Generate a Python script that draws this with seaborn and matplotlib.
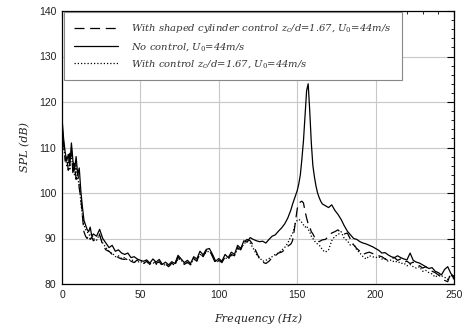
import numpy as np
import pandas as pd
import seaborn as sns
import matplotlib
matplotlib.use("Agg")
import matplotlib.pyplot as plt
from matplotlib.ticker import MultipleLocator
from matplotlib.font_manager import FontProperties

freq = list(range(0, 21)) + list(range(22, 147, 2)) + list(range(147, 167)) + list(range(168, 251, 2))

# With shaped cylinder control (dashed)
spl_shaped = [
    115, 111, 107, 108, 105, 109, 110, 104, 106.5, 103, 105, 101, 99, 95, 91.5, 90.5, 90, 90.8, 89.8, 90.3, 89.5,
    90, 90.8, 88.5, 87.5, 87.2, 86.5, 86.3, 85.8, 85.5, 85.4,
    85.8, 85, 84.7, 85.3, 84.8, 84.5, 85, 84.3, 85.2, 84.5,
    84.9, 84, 84.4, 83.8, 84.6, 84, 86, 85, 84.3, 84.8,
    84.2, 85.6, 85, 86.8, 86, 87.3, 87.5, 86, 84.5, 85.2,
    84.7, 86, 85.5, 86.5, 86.2, 88, 87.5, 89.2, 89.8, 89.5,
    88.5, 87, 85.5, 84.8, 84.5, 85, 85.8, 86.2, 86.8, 87,
    87.5, 88.3, 88.8,
    89.5, 91.5, 94, 96.5, 97.8, 98, 98.2, 97.8, 96, 94.5, 93.2, 92.5, 91.5, 91, 90.3, 90, 89.5, 89.3, 89.5, 89.7,
    89.8, 90.5, 91.2, 91.5, 91.9, 91.2, 91, 91.2, 89.8, 88.6,
    87.8, 87.2, 86.5, 86.8, 87, 86.7, 86.6, 86.2, 86, 85.5,
    85.2, 85.6, 85.8, 85.2, 85.5, 84.8, 85, 84.5, 84.8, 84.2,
    84, 83.5, 83.8, 83.2, 82.8, 82.5, 82, 81.5, 80.8, 80.5,
    82.5, 81,
]

# No control (solid)
spl_none = [
    116.5, 112, 109, 107, 108.5, 106, 111, 107, 105, 108, 104, 105.5, 100.5, 97, 94, 93, 92, 91.5, 92.5, 90.5, 91,
    90.5, 92, 90, 89, 88, 88.5, 87.2, 87.5, 86.8, 86.5,
    86.8, 85.8, 86, 85.5, 85.2, 85, 85.3, 84.6, 85.5, 84.8,
    85.4, 84.3, 84.8, 84.2, 84.9, 84.5, 86.3, 85.5, 84.7, 85.2,
    84.5, 86, 85.5, 87.2, 86.4, 87.6, 87.8, 86.5, 85, 85.6,
    85, 86.5, 85.8, 87, 86.5, 88.5, 87.8, 89.5, 89.2, 90.2,
    89.8, 89.5, 89.3, 89.4, 89, 89.8, 90.5, 90.8, 91.6, 92.3,
    93.2, 94.5, 96.3,
    97.5, 98.5, 99.5, 100.5, 102, 104, 107.5, 111.5, 117, 122.5, 124, 118, 111, 106, 103.5, 101.5, 100, 99, 98.2, 97.6,
    97.2, 96.8, 97.4, 96.2, 95.3, 94.2, 92.8, 91.6, 90.8, 90,
    89.8, 89.3, 89, 88.8, 88.5, 88.2, 87.8, 87.4, 86.8, 86.9,
    86.4, 86, 85.8, 86.2, 85.8, 85.5, 85.3, 86.8, 85.2, 84.8,
    84.6, 84.2, 83.8, 83.4, 83.6, 82.8, 82.5, 82, 83.2, 83.8,
    82.3, 81.5,
]

# With control (dotted)
spl_control = [
    114, 110, 108, 106, 107, 105, 109, 105, 104, 106, 103, 102, 98, 95, 93, 92, 91.5, 91, 90.5, 91, 90,
    89.6, 91, 89, 88, 87, 86.8, 86, 86.2, 85.6, 85.8,
    85.2, 85.4, 85, 84.8, 85, 84.6, 84.8, 84.5, 84.7, 84.3,
    84.8, 84.2, 84.2, 84, 84.4, 84.2, 85.6, 85.2, 84.5, 84.6,
    84.4, 85.4, 85.2, 86.5, 86.2, 87, 87.2, 86.2, 84.8, 85,
    85, 85.7, 85.6, 86.2, 86.4, 87.6, 87.8, 88.8, 89.4, 89,
    87.8, 86.5, 85.8, 85, 85.2, 85.6, 86, 86.5, 86.8, 87.4,
    88, 89, 90.5,
    91, 92.3, 93.5, 94, 94.2, 94, 93.5, 93, 92.5, 92.8, 92, 91.5, 90.5, 90, 89.5, 89, 88.8, 88.5, 88.2, 87.5,
    87, 87.5, 89.5, 90.5, 90.8, 91.5, 90, 89.5, 88.5, 88.8,
    87.5, 86.8, 86, 85.5, 86.2, 86, 85.8, 86, 85.5, 85.6,
    85, 85.3, 84.8, 85, 84.5, 84.6, 84, 84.3, 83.8, 83.5,
    83.8, 82.8, 83, 82.5, 82.2, 81.5, 82, 81.8, 81.5, 81,
    82, 81.2,
]

labels = [
    r"With shaped cylinder control z$_c$/d=1.67, U$_0$=44m/s",
    r"No control, U$_0$=44m/s",
    r"With control z$_c$/d=1.67, U$_0$=44m/s",
]
x_ticks = [0, 50, 100, 150, 200, 250]
y_ticks = [80, 90, 100, 110, 120, 130, 140]

sns.set_theme(style="white")
plt.rcParams["mathtext.fontset"] = "dejavuserif"

n = len(freq)
df = pd.DataFrame({
    "Frequency": freq * 3,
    "SPL": spl_shaped + spl_none + spl_control,
    "series": [labels[0]] * n + [labels[1]] * n + [labels[2]] * n,
})

fig = plt.figure(figsize=(4.65, 3.31), dpi=100)
ax = fig.add_axes([62 / 465, 1 - 284 / 331, 392 / 465, 273 / 331])

sns.lineplot(
    data=df, x="Frequency", y="SPL", style="series", style_order=labels,
    dashes={labels[0]: (8, 4.5), labels[1]: "", labels[2]: (1, 1.6)},
    color="black", linewidth=0.9, ax=ax, legend=True,
)

ax.set_xlim(0, 250)
ax.set_ylim(80, 140)
ax.set_xticks(x_ticks)
ax.set_yticks(y_ticks)
ax.xaxis.set_minor_locator(MultipleLocator(10))
ax.yaxis.set_minor_locator(MultipleLocator(2))
ax.tick_params(which="both", direction="in", top=True, right=True, color="black")
ax.tick_params(which="major", length=5, width=0.8, labelsize=7.5, pad=4)
ax.tick_params(which="minor", length=2.5, width=0.6)
for lab in ax.get_xticklabels() + ax.get_yticklabels():
    lab.set_fontfamily("Liberation Sans")
    lab.set_color("#222222")
ax.grid(True, which="major", color="#c8c8c8", linewidth=0.8)
ax.set_axisbelow(True)
for s in ax.spines.values():
    s.set_color("black")
    s.set_linewidth(0.9)

lab_font = FontProperties(family="DejaVu Serif", style="italic", size=8)
ax.set_xlabel("Frequency (Hz)", fontproperties=lab_font, labelpad=10, color="#222222")
ax.set_ylabel("SPL (dB)", fontproperties=lab_font, labelpad=6, color="#222222")

handles, leg_labels = ax.get_legend_handles_labels()
leg = ax.legend(
    handles, leg_labels, loc="upper left", bbox_to_anchor=(0.005, 0.996),
    prop=FontProperties(family="DejaVu Serif", style="italic", size=7.2),
    frameon=True, fancybox=False, edgecolor="#888888", framealpha=1,
    handlelength=4.4, handletextpad=1.35, labelspacing=0.55, borderpad=1.0,
    borderaxespad=0,
)
leg.get_frame().set_linewidth(0.8)
for t in leg.get_texts():
    t.set_color("#333333")

fig.savefig("out.png", dpi=100)
